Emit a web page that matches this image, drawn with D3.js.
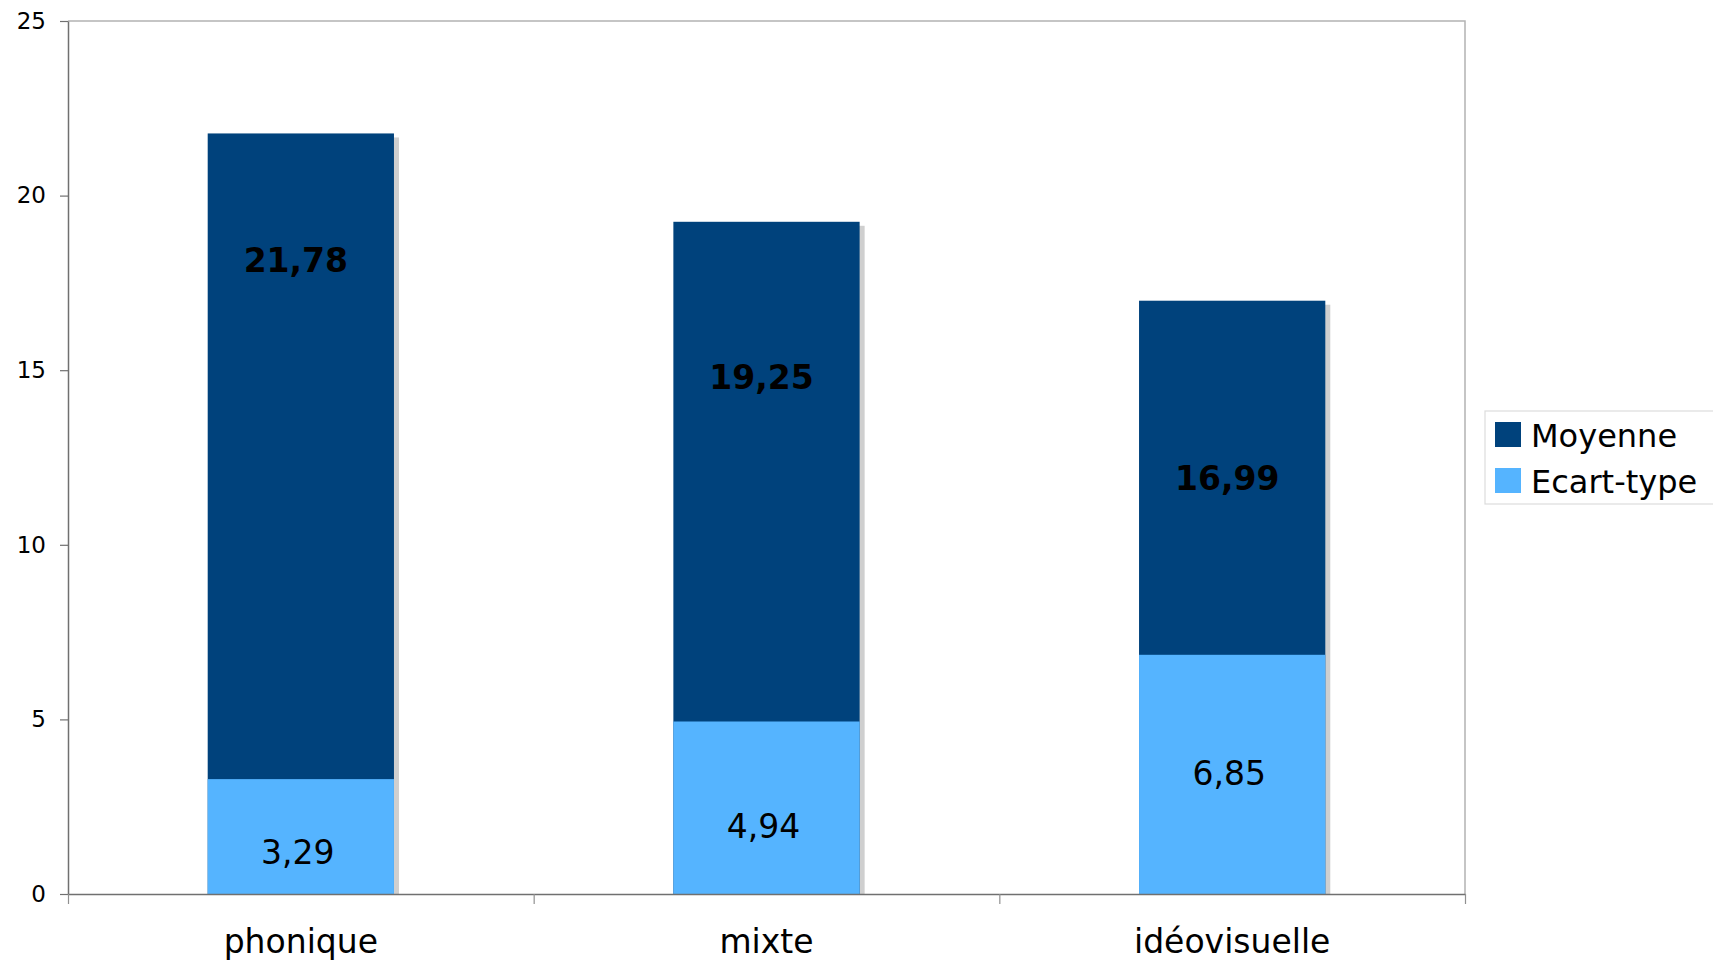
<!DOCTYPE html>
<html>
<head>
<meta charset="utf-8">
<script src="https://cdn.jsdelivr.net/npm/d3@7"></script>
<style>
  body { margin: 0; background: #fff; }
  text { font-family: "DejaVu Sans", Verdana, sans-serif; fill: #000; }
</style>
</head>
<body>
<div id="chart"></div>
<script>
// data
var categories = ["phonique", "mixte", "idéovisuelle"];
var moyenne = [21.78, 19.25, 16.99];
var ecartType = [3.29, 4.94, 6.85];
var seriesNames = ["Moyenne", "Ecart-type"];
var yTicks = [0, 5, 10, 15, 20, 25];
// where the value labels sit, in chart units
var moyLabelAt = [18.15, 14.8, 11.9];
var ectLabelAt = [1.2, 1.95, 3.45];

var colors = ["#00427c", "#55b4ff"];
var fmt = function(v) { return v.toFixed(2).replace(".", ","); };

var width = 1713,
    height = 962,
    plotL = 68, plotR = 1465, plotT = 21, plotB = 894;

var svg = d3.select("#chart").append("svg")
    .attr("width", width)
    .attr("height", height);

svg.append("rect")
    .attr("width", width).attr("height", height)
    .attr("fill", "#fff");

var x = d3.scaleBand()
    .domain(categories)
    .range([plotL, plotR])
    .paddingInner(0.6)
    .paddingOuter(0.3);

var y = d3.scaleLinear()
    .domain([0, 25])
    .range([plotB, plotT]);

// frame (top + right)
svg.append("path")
    .attr("d", "M" + plotL + "," + plotT + "H" + plotR + "V" + plotB)
    .attr("fill", "none")
    .attr("stroke", "#b3b3b3")
    .attr("stroke-width", 1.5);

var rows = categories.map(function(c, i) {
    return {cat: c, moy: moyenne[i], ect: ecartType[i], i: i};
});

var bars = svg.append("g").selectAll("g")
    .data(rows)
    .enter().append("g");

// drop shadow
bars.append("rect")
    .attr("x", function(d) { return x(d.cat) + 5; })
    .attr("y", function(d) { return y(d.moy) + 4; })
    .attr("width", x.bandwidth())
    .attr("height", function(d) { return y(0) - y(d.moy) - 4; })
    .attr("fill", "#cfcfcf");

bars.append("rect")
    .attr("x", function(d) { return x(d.cat); })
    .attr("y", function(d) { return y(d.moy); })
    .attr("width", x.bandwidth())
    .attr("height", function(d) { return y(0) - y(d.moy); })
    .attr("fill", colors[0]);

bars.append("rect")
    .attr("x", function(d) { return x(d.cat); })
    .attr("y", function(d) { return y(d.ect); })
    .attr("width", x.bandwidth())
    .attr("height", function(d) { return y(0) - y(d.ect); })
    .attr("fill", colors[1]);

bars.append("text")
    .attr("x", function(d) { return x(d.cat) + x.bandwidth() / 2 - 5; })
    .attr("y", function(d) { return y(moyLabelAt[d.i]); })
    .attr("dy", "0.36em")
    .attr("text-anchor", "middle")
    .style("font-size", "33px")
    .style("font-weight", "bold")
    .text(function(d) { return fmt(d.moy); });

bars.append("text")
    .attr("x", function(d) { return x(d.cat) + x.bandwidth() / 2 - 3; })
    .attr("y", function(d) { return y(ectLabelAt[d.i]); })
    .attr("dy", "0.36em")
    .attr("text-anchor", "middle")
    .style("font-size", "33px")
    .text(function(d) { return fmt(d.ect); });

// y axis
var yAxis = svg.append("g")
    .attr("transform", "translate(" + plotL + ",0)")
    .call(d3.axisLeft(y).tickValues(yTicks).tickSize(8).tickPadding(14).tickSizeOuter(0));
yAxis.select(".domain").attr("stroke", "#707070").attr("stroke-width", 1.5);
yAxis.selectAll(".tick line").attr("stroke", "#707070").attr("stroke-width", 1.2);
yAxis.selectAll("text").style("font-size", "23px").attr("font-family", null);

// x axis: category labels
var xAxis = svg.append("g")
    .attr("transform", "translate(0," + plotB + ")")
    .call(d3.axisBottom(x).tickSize(0).tickPadding(36));
xAxis.select(".domain").remove();
xAxis.selectAll("text").style("font-size", "33px").attr("font-family", null);

// x axis line with boundary ticks
var xEdge = d3.scaleLinear().domain([0, categories.length]).range([plotL, plotR]);
var xLine = svg.append("g")
    .attr("transform", "translate(0," + plotB + ")")
    .call(d3.axisBottom(xEdge).ticks(categories.length).tickSize(10).tickSizeOuter(0).tickFormat(""));
xLine.select(".domain").attr("stroke", "#707070").attr("stroke-width", 1.5);
xLine.selectAll(".tick line").attr("stroke", "#909090").attr("stroke-width", 1.2);

// legend
var legend = svg.append("g");
legend.append("rect")
    .attr("x", 1485).attr("y", 411)
    .attr("width", 260).attr("height", 93)
    .attr("fill", "#fff")
    .attr("stroke", "#dcdcdc")
    .attr("stroke-width", 1.2);

var items = legend.selectAll("g.item")
    .data(seriesNames)
    .enter().append("g")
    .attr("class", "item")
    .attr("transform", function(d, i) { return "translate(1495," + (422 + i * 46) + ")"; });

items.append("rect")
    .attr("width", 26).attr("height", 25)
    .attr("fill", function(d, i) { return colors[i]; });

items.append("text")
    .attr("x", 36).attr("y", 13)
    .attr("dy", "0.36em")
    .style("font-size", "32px")
    .text(function(d) { return d; });
</script>
</body>
</html>
